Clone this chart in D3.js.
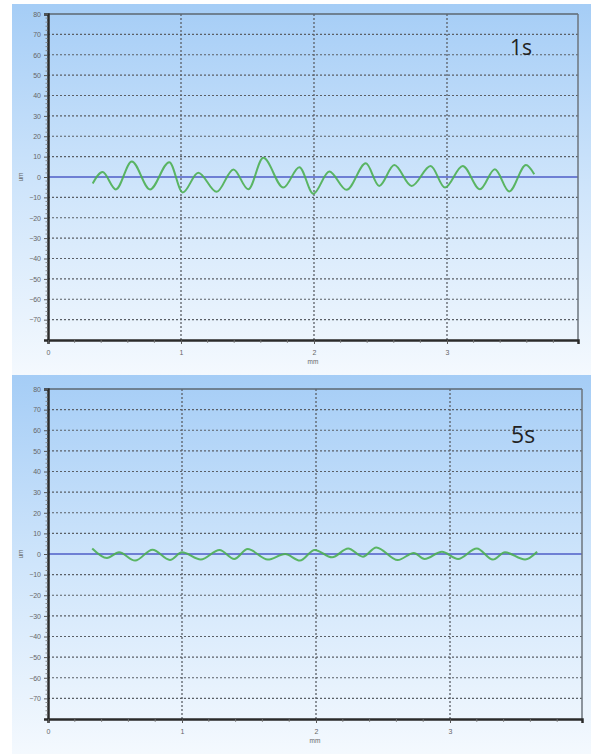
<!DOCTYPE html>
<html><head><meta charset="utf-8">
<script src="https://cdn.jsdelivr.net/npm/d3@7"></script>
<style>body{margin:0;background:#fff}svg{display:block}</style>
</head><body>
<script>
// ---- data ----
const panelLabels = ["1s", "5s"];
const xTicks = [0, 1, 2, 3];
const yTicks = [80, 70, 60, 50, 40, 30, 20, 10, 0, -10, -20, -30, -40, -50, -60, -70];
const xUnit = "mm";
const yUnit = "um";
// profile at 1 s (mm, um) - extrema
const mm1 = [0.336,0.41,0.51,0.63,0.767,0.912,1.013,1.13,1.268,1.394,1.506,1.619,1.77,1.89,1.995,2.115,2.245,2.39,2.49,2.604,2.734,2.877,2.985,3.118,3.248,3.36,3.468,3.594,3.656];
const um1 = [-3.2,2.4,-6.1,7.6,-6.1,7.3,-7.6,2.1,-7.3,3.7,-6.0,9.4,-5.2,4.8,-8.2,2.7,-6.3,6.7,-4.4,5.9,-4.4,5.4,-5.2,5.4,-6.0,3.8,-7.1,5.9,1.4];
// profile at 5 s
const mm5 = [0.33,0.44,0.53,0.65,0.78,0.91,1.0,1.14,1.28,1.39,1.49,1.64,1.77,1.88,1.99,2.12,2.24,2.35,2.45,2.61,2.73,2.81,2.94,3.06,3.2,3.32,3.41,3.56,3.65];
const um5 = [2.7,-1.9,0.8,-3.2,2.1,-2.9,0.8,-2.7,1.9,-2.4,2.4,-2.7,0,-3.2,2.0,-1.6,2.7,-1.3,3.2,-2.9,0.5,-2.4,1.1,-2.4,2.7,-2.7,0.8,-2.7,1.1];

const W = 591, H = 754;
const svg = d3.select("body").append("svg").attr("width", W).attr("height", H);
const defs = svg.append("defs");
const grad = defs.append("linearGradient").attr("id","bg").attr("x1",0).attr("y1",0).attr("x2",0).attr("y2",1);
grad.append("stop").attr("offset","0%").attr("stop-color","#a5cdf6");
grad.append("stop").attr("offset","50%").attr("stop-color","#cfe5fb");
grad.append("stop").attr("offset","100%").attr("stop-color","#f4f9fe");

const panels = [
  {bg:[12,4,579,371], left:48, right:578, top:14, bottom:340, xs:mm1, ys:um1, label:panelLabels[0], lx:510, ly:55, lsize:21},
  {bg:[12,375,579,379], left:48, right:582, top:389, bottom:719, xs:mm5, ys:um5, label:panelLabels[1], lx:511, ly:443, lsize:23}
];

panels.forEach(p => {
  const g = svg.append("g");
  g.append("rect").attr("x",p.bg[0]).attr("y",p.bg[1]).attr("width",p.bg[2]).attr("height",p.bg[3]).attr("fill","url(#bg)");
  const x = d3.scaleLinear().domain([0, 3.985]).range([p.left, p.right]);
  const y = d3.scaleLinear().domain([-80, 80]).range([p.bottom, p.top]);

  // grid
  g.selectAll(".hg").data(yTicks.filter(v => v !== 80 && v !== 0)).enter().append("line")
    .attr("x1", p.left).attr("x2", p.right).attr("y1", d=>y(d)).attr("y2", d=>y(d))
    .attr("stroke","#5a5f66").attr("stroke-width",1.1).attr("stroke-dasharray","2,2");
  g.selectAll(".vg").data(xTicks.filter(v => v !== 0)).enter().append("line")
    .attr("y1", p.top).attr("y2", p.bottom).attr("x1", d=>x(d)).attr("x2", d=>x(d))
    .attr("stroke","#5a5f66").attr("stroke-width",1.3).attr("stroke-dasharray","2,2");

  // zero line
  g.append("line").attr("x1",p.left).attr("x2",p.right).attr("y1",y(0)).attr("y2",y(0))
    .attr("stroke","#6e7fd4").attr("stroke-width",2);

  // profile curve
  const pts = p.xs.map((v,i)=>[v,p.ys[i]]);
  g.append("path").datum(pts)
    .attr("d", d3.line().x(d=>x(d[0])).y(d=>y(d[1])).curve(d3.curveMonotoneX))
    .attr("fill","none").attr("stroke","#4caf52").attr("stroke-width",2).attr("stroke-opacity",0.9);

  // border: top/right thin, left/bottom thick
  g.append("line").attr("x1",p.left).attr("x2",p.right).attr("y1",p.top).attr("y2",p.top).attr("stroke","#5c6770").attr("stroke-width",1.5);
  g.append("line").attr("x1",p.right).attr("x2",p.right).attr("y1",p.top).attr("y2",p.bottom).attr("stroke","#6c757d").attr("stroke-width",1.5);

  // left axis
  const yAx = d3.axisLeft(y).tickValues(yTicks).tickSize(4).tickPadding(3).tickFormat(d3.format("d"));
  const ya = g.append("g").attr("transform",`translate(${p.left},0)`).call(yAx);
  ya.select(".domain").attr("stroke","#2b2b2b").attr("stroke-width",2.5);
  ya.selectAll(".tick line").attr("stroke","#555");
  ya.selectAll("text").attr("fill","#666").attr("font-size",7).attr("font-family","Liberation Sans, Arial, sans-serif");
  const yMinor = d3.range(-80, 81, 2).filter(v => v % 10 !== 0);
  g.selectAll(".ym").data(yMinor).enter().append("line")
    .attr("x1",p.left-2.5).attr("x2",p.left).attr("y1",d=>y(d)).attr("y2",d=>y(d)).attr("stroke","#777").attr("stroke-width",0.8);

  // bottom axis
  const xAx = d3.axisBottom(x).tickValues(xTicks).tickSize(4).tickPadding(6).tickFormat(d3.format("d"));
  const xa = g.append("g").attr("transform",`translate(0,${p.bottom})`).call(xAx);
  xa.select(".domain").attr("stroke","#2b2b2b").attr("stroke-width",2.5);
  xa.selectAll(".tick line").attr("stroke","#555");
  xa.selectAll("text").attr("fill","#666").attr("font-size",7).attr("font-family","Liberation Sans, Arial, sans-serif");
  const xMinor = d3.range(1, 20).map(i => i*0.2).filter(v => Math.abs(v - Math.round(v)) > 0.01 && v < 3.985);
  g.selectAll(".xm").data(xMinor).enter().append("line")
    .attr("x1",d=>x(d)).attr("x2",d=>x(d)).attr("y1",p.bottom).attr("y2",p.bottom+3).attr("stroke","#777").attr("stroke-width",0.8);

  // unit labels
  g.append("text").attr("x",(p.left+p.right)/2).attr("y",p.bottom+24).attr("text-anchor","middle")
    .attr("font-size",6.5).attr("fill","#666").attr("font-family","Liberation Sans, Arial, sans-serif").text(xUnit);
  g.append("text").attr("transform",`translate(23,${y(0)}) rotate(-90)`).attr("text-anchor","middle")
    .attr("font-size",6.5).attr("fill","#666").attr("font-family","Liberation Sans, Arial, sans-serif").text(yUnit);

  // panel label
  g.append("text").attr("x",p.lx).attr("y",p.ly).attr("font-size",p.lsize).attr("fill","#222")
    .attr("font-family","Open Sans, Noto Sans, sans-serif").text(p.label);
});
</script>
</body></html>
